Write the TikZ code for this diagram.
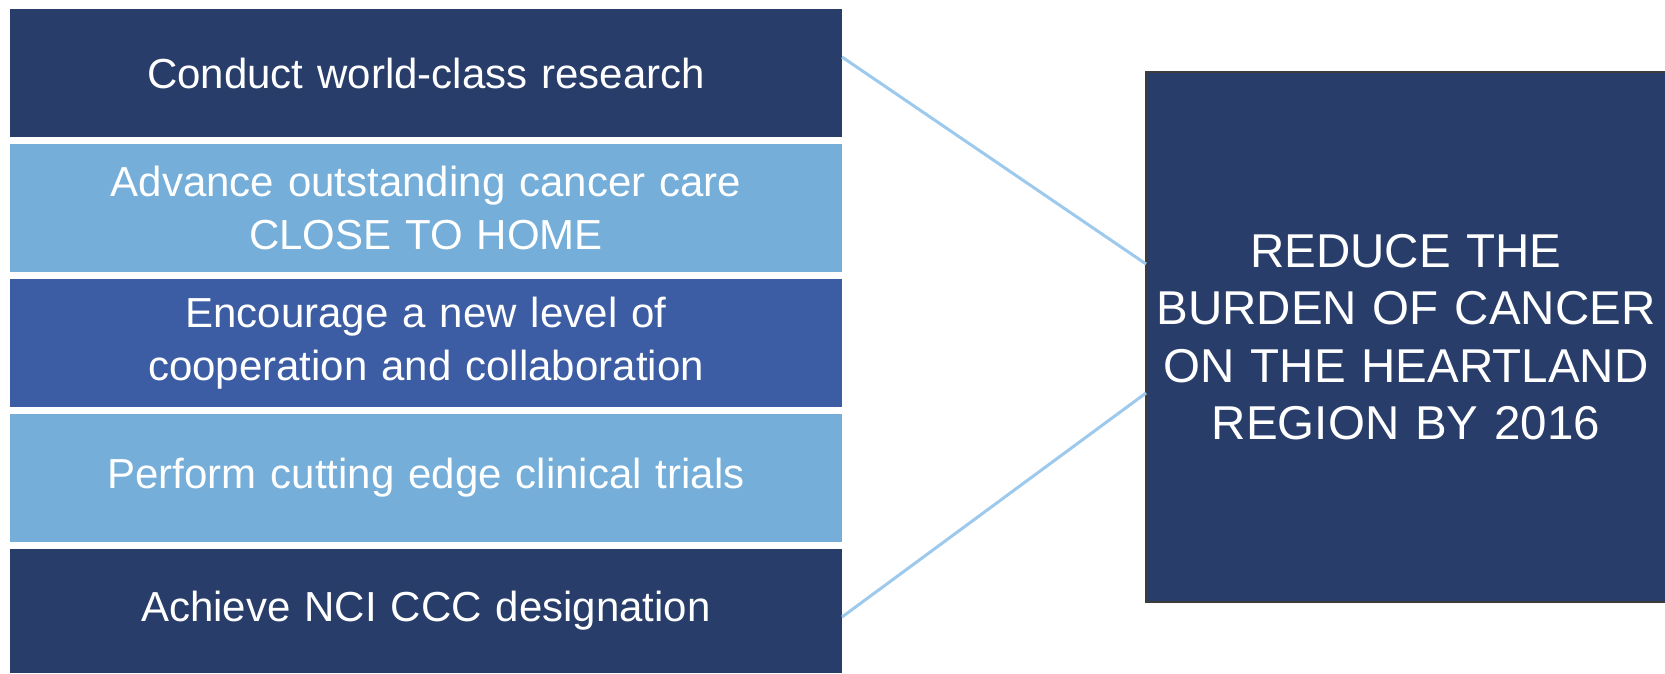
\documentclass[tikz,border=0pt]{standalone}
\usepackage{fontspec}
\setmainfont{Liberation Sans}
\definecolor{navy}{HTML}{283D6A}
\definecolor{sky}{HTML}{74AED9}
\definecolor{mid}{HTML}{3C5DA3}
\definecolor{linkc}{HTML}{9DC9ED}
\definecolor{edgec}{HTML}{3C3C3C}
\begin{document}
\begin{tikzpicture}[x=1pt,y=-1pt,
  goal/.style={anchor=north west,inner sep=0pt,outer sep=0pt,minimum width=832pt,text width=800pt,align=center,text=white,font=\fontsize{42}{53}\selectfont},
  target/.style={anchor=north west,inner sep=0pt,outer sep=0pt,minimum width=520pt,minimum height=530pt,text width=500pt,align=center,text=white,fill=navy,draw=edgec,line width=2pt,font=\fontsize{47.5}{57.5}\selectfont},
  link/.style={draw=linkc,line width=3pt}]
\useasboundingbox (0,0) rectangle (1665,673);
\node[goal,fill=navy,minimum height=128pt] (b1) at (10,9) {Conduct world-class research};
\node[goal,fill=sky,minimum height=128pt] (b2) at (10,144) {Advance outstanding cancer care\\CLOSE TO HOME};
\node[goal,fill=mid,minimum height=128pt] (b3) at (10,279) {Encourage a new level of\\cooperation and collaboration};
\node[goal,fill=sky,minimum height=128pt] (b4) at (10,414) {Perform cutting edge clinical trials};
\node[goal,fill=navy,minimum height=124pt] (b5) at (10,549) {Achieve NCI CCC designation};
\node[target] (t) at (1146,72) {REDUCE THE\\BURDEN OF CANCER\\ON THE HEARTLAND\\REGION BY 2016};
\draw[link] ([yshift=16pt]b1.east) -- ([yshift=73pt]t.west);
\draw[link] ([yshift=-6pt]b5.east) -- ([yshift=-56pt]t.west);
\end{tikzpicture}
\end{document}
